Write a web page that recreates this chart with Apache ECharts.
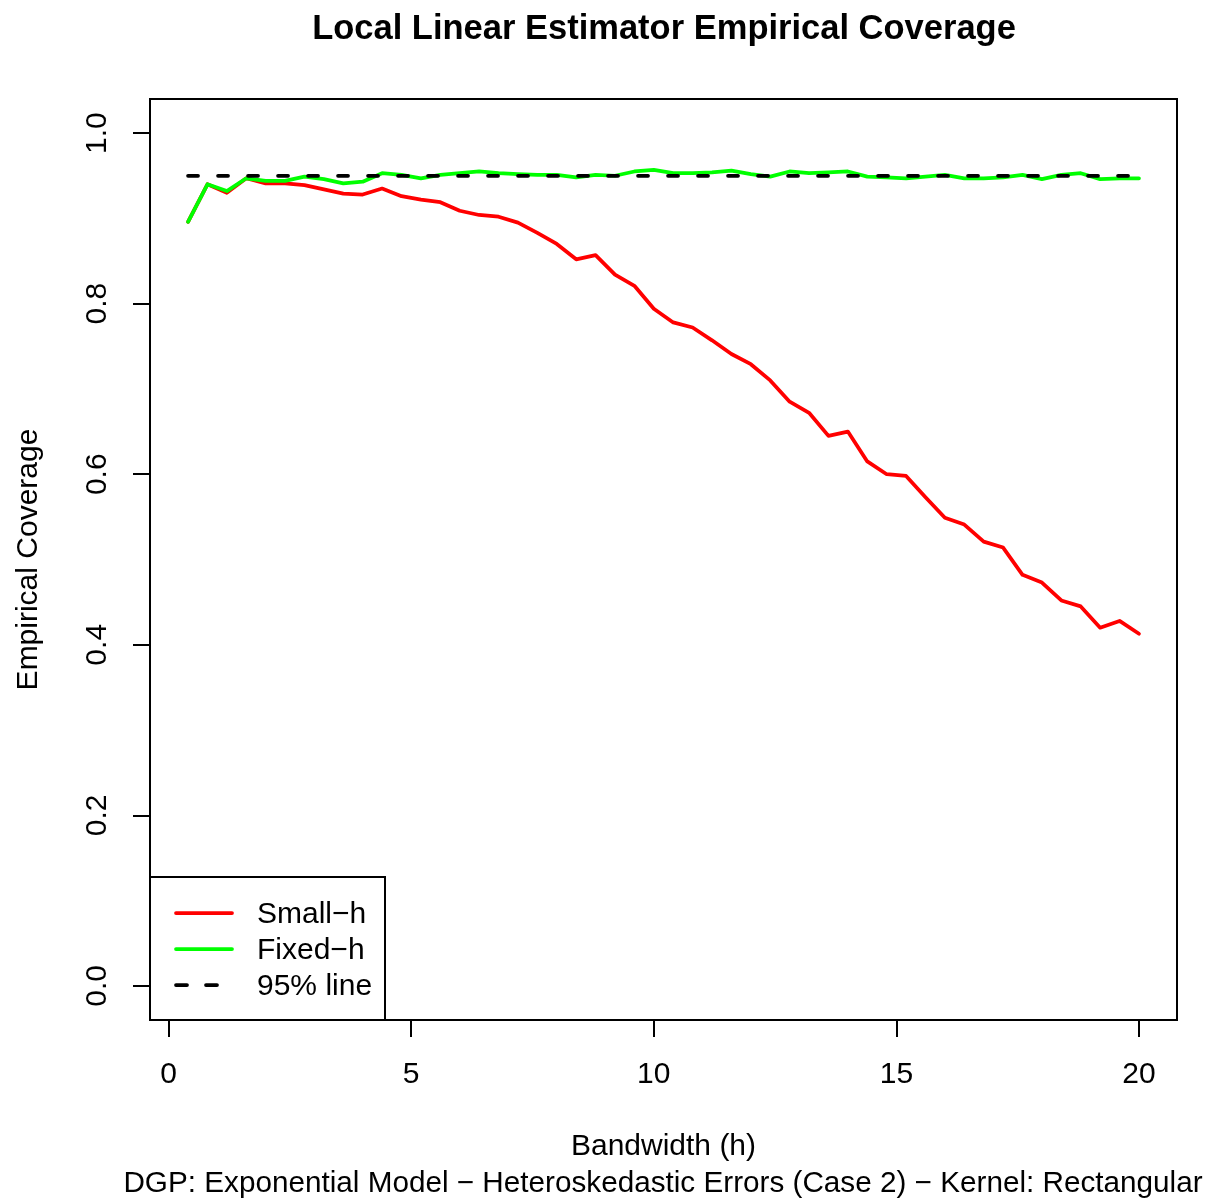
<!DOCTYPE html>
<html>
<head>
<meta charset="utf-8">
<script src="https://cdn.jsdelivr.net/npm/echarts@6/dist/echarts.min.js"></script>
<style>
  html, body { margin: 0; padding: 0; background: #fff; }
  #chart { width: 1209px; height: 1198px; }
</style>
</head>
<body>
<div id="chart"></div>
<script>
// Bandwidth grid (h)
const bandwidths = [0.4, 0.8, 1.2, 1.6, 2.0, 2.4, 2.8, 3.2, 3.6, 4.0,
  4.4, 4.8, 5.2, 5.6, 6.0, 6.4, 6.8, 7.2, 7.6, 8.0,
  8.4, 8.8, 9.2, 9.6, 10.0, 10.4, 10.8, 11.2, 11.6, 12.0,
  12.4, 12.8, 13.2, 13.6, 14.0, 14.4, 14.8, 15.2, 15.6, 16.0,
  16.4, 16.8, 17.2, 17.6, 18.0, 18.4, 18.8, 19.2, 19.6, 20.0];

// Empirical coverage, small-h asymptotics
const smallH = [0.896, 0.940, 0.930, 0.947, 0.941, 0.941, 0.939, 0.934, 0.929, 0.928,
  0.935, 0.926, 0.922, 0.919, 0.909, 0.904, 0.902, 0.895, 0.883, 0.870,
  0.852, 0.857, 0.834, 0.821, 0.794, 0.778, 0.772, 0.757, 0.741, 0.729,
  0.710, 0.685, 0.672, 0.645, 0.650, 0.615, 0.600, 0.598, 0.573, 0.549,
  0.541, 0.521, 0.514, 0.482, 0.473, 0.452, 0.445, 0.420, 0.428, 0.413];

// Empirical coverage, fixed-h asymptotics
const fixedH = [0.896, 0.940, 0.932, 0.947, 0.944, 0.944, 0.949, 0.946, 0.941, 0.943,
  0.953, 0.951, 0.947, 0.951, 0.953, 0.955, 0.953, 0.952, 0.951, 0.951,
  0.948, 0.951, 0.950, 0.955, 0.957, 0.953, 0.953, 0.954, 0.956, 0.952,
  0.949, 0.955, 0.953, 0.954, 0.955, 0.949, 0.948, 0.947, 0.949, 0.951,
  0.947, 0.947, 0.948, 0.951, 0.946, 0.951, 0.953, 0.946, 0.947, 0.947];

// Nominal level
const nominal = 0.95;

const xTicks = [0, 5, 10, 15, 20];
const yTicks = [0.0, 0.2, 0.4, 0.6, 0.8, 1.0];
const seriesNames = ['Small\u2212h', 'Fixed\u2212h', '95% line'];

const FONT = '"Liberation Sans", Arial, Helvetica, sans-serif';
const FS = 30;
const LW = 3.75;

const chart = echarts.init(document.getElementById('chart'), null, { renderer: 'canvas' });

const pairs = (ys) => bandwidths.map((x, i) => [x, ys[i]]);
const nominalLine = [[bandwidths[0], nominal], [bandwidths[bandwidths.length - 1], nominal]];

// Legend box anchored at the plot's lower-left corner
const legendLeft = 150, legendTop = 877, legendW = 235, legendH = 143;
const rowY = [913, 949, 985];
const legendGraphics = [
  { type: 'rect', shape: { x: legendLeft, y: legendTop, width: legendW, height: legendH },
    style: { fill: '#fff', stroke: '#000', lineWidth: 2 }, z: 100 },
  { type: 'line', shape: { x1: 176, y1: rowY[0], x2: 232, y2: rowY[0] },
    style: { stroke: '#ff0000', lineWidth: LW, lineCap: 'round' }, z: 101 },
  { type: 'line', shape: { x1: 176, y1: rowY[1], x2: 232, y2: rowY[1] },
    style: { stroke: '#00ff00', lineWidth: LW, lineCap: 'round' }, z: 101 },
  { type: 'line', shape: { x1: 176, y1: rowY[2], x2: 232, y2: rowY[2] },
    style: { stroke: '#000', lineWidth: LW, lineCap: 'round', lineDash: [11, 19] }, z: 101 }
];
seriesNames.forEach((name, i) => {
  legendGraphics.push({
    type: 'text', x: 257, y: rowY[i] + 2, z: 101,
    style: { text: name, font: FS + 'px ' + FONT, fill: '#000', verticalAlign: 'middle', align: 'left' }
  });
});

const option = {
  backgroundColor: '#fff',
  animation: false,
  title: [
    { text: 'Local Linear Estimator Empirical Coverage', left: 659, top: 7, textAlign: 'center',
      textStyle: { fontFamily: FONT, fontSize: 34.5, fontWeight: 'bold', color: '#000' } },
    { text: 'DGP: Exponential Model \u2212 Heteroskedastic Errors (Case 2) \u2212 Kernel: Rectangular',
      left: 658, top: 1164, textAlign: 'center',
      textStyle: { fontFamily: FONT, fontSize: 29.7, fontWeight: 'normal', color: '#000' } }
  ],
  grid: {
    left: 150, top: 99, width: 1027, height: 921,
    show: true, borderColor: '#000', borderWidth: 2, backgroundColor: 'transparent',
    containLabel: false, outerBoundsMode: 'none'
  },
  xAxis: {
    type: 'value', min: -0.384, max: 20.784,
    name: 'Bandwidth (h)', nameLocation: 'middle', nameGap: 112,
    nameTextStyle: { fontFamily: FONT, fontSize: FS, color: '#000' },
    axisLine: { show: false, onZero: false },
    axisTick: { show: true, inside: false, length: 17, customValues: xTicks,
      lineStyle: { color: '#000', width: 2 } },
    axisLabel: { show: true, customValues: xTicks, margin: 40,
      fontFamily: FONT, fontSize: FS, color: '#000' },
    splitLine: { show: false }
  },
  yAxis: {
    type: 'value', min: -0.04, max: 1.04,
    name: 'Empirical Coverage', nameLocation: 'middle', nameGap: 106, nameRotate: 90,
    nameTextStyle: { fontFamily: FONT, fontSize: FS, color: '#000' },
    axisLine: { show: false, onZero: false },
    axisTick: { show: true, inside: false, length: 17, customValues: yTicks,
      lineStyle: { color: '#000', width: 2 } },
    axisLabel: { show: true, customValues: yTicks, margin: 37, rotate: 90,
      formatter: (v) => v.toFixed(1),
      fontFamily: FONT, fontSize: FS, color: '#000' },
    splitLine: { show: false }
  },
  series: [
    { name: seriesNames[0], type: 'line', data: pairs(smallH), showSymbol: false, symbol: 'none',
      lineStyle: { color: '#ff0000', width: LW, cap: 'round', join: 'round' }, z: 2 },
    { name: seriesNames[1], type: 'line', data: pairs(fixedH), showSymbol: false, symbol: 'none',
      lineStyle: { color: '#00ff00', width: LW, cap: 'round', join: 'round' }, z: 3 },
    { name: seriesNames[2], type: 'line', data: nominalLine, showSymbol: false, symbol: 'none',
      lineStyle: { color: '#000', width: LW, type: [10, 20], cap: 'round' }, z: 4 }
  ],
  graphic: legendGraphics
};

chart.setOption(option);
</script>
</body>
</html>
